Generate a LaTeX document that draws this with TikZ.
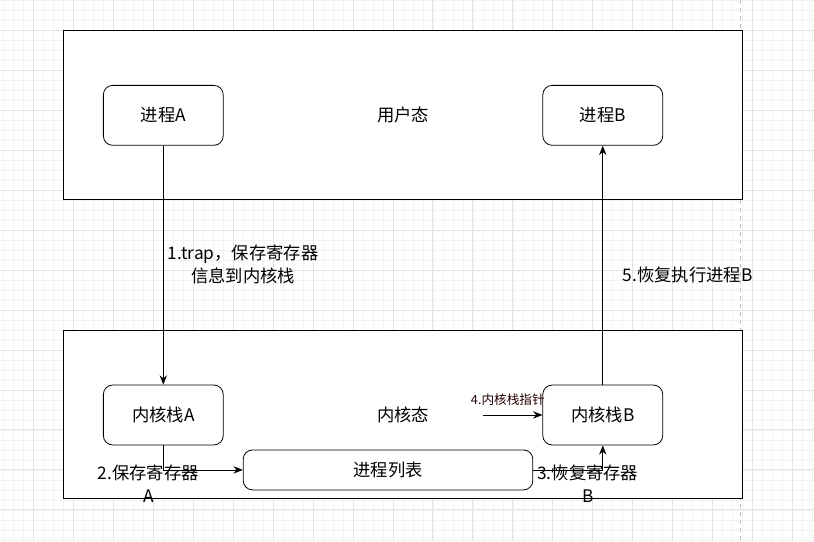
\documentclass[tikz,border=0pt]{standalone}
\usepackage{fontspec}
\setmainfont{Noto Sans CJK SC}
\usetikzlibrary{arrows.meta,positioning}
\definecolor{gridmajor}{HTML}{E4E4E4}
\definecolor{gridminor}{HTML}{F3F3F3}

\begin{document}
\begin{tikzpicture}[
  x=0.75pt, y=-0.75pt,
  font=\fontsize{13}{17}\selectfont,
  >={Stealth[length=7pt,width=5.5pt]},
  minorgrid/.style={gridminor,line width=0.5pt},
  majorgrid/.style={gridmajor,line width=0.75pt},
  frame/.style ={draw,rectangle,fill=white,line width=0.75pt,
                 minimum width=510pt,minimum height=126.75pt,inner sep=0pt},
  proc/.style  ={draw,rectangle,rounded corners=7pt,fill=white,line width=0.6pt,
                 minimum width=90pt,minimum height=45pt,align=center},
  lbl/.style   ={align=center,inner sep=0pt},
  flow/.style  ={->,line width=0.6pt},
]

%% =====================================================
%%  Canvas grid
%% =====================================================
\fill[white] (0,0) rectangle (814,541);
\foreach \gx in {3,13,...,813} \draw[minorgrid] (\gx,0) -- (\gx,541);
\foreach \gy in {0,10,...,540} \draw[minorgrid] (0,\gy) -- (814,\gy);
\foreach \gx in {33,73,...,813} \draw[majorgrid] (\gx,0) -- (\gx,541);
\foreach \gy in {30,70,...,540} \draw[majorgrid] (0,\gy) -- (814,\gy);
\draw[gray!50,dashed,line width=0.6pt] (741,0) -- (741,541);
\useasboundingbox (0,0) rectangle (814,541);

%% =====================================================
%%  User mode
%% =====================================================
\node[frame] (userbox) at (403,114.5) {};
\node[lbl]   (user)    at (403,115) {用户态};
\node[proc]  (pA)      at (163,115) {进程A};
\node[proc]  (pB)      at (603,115) {进程B};

%% =====================================================
%%  Kernel mode
%% =====================================================
\node[frame] (kernbox) at (403,414.5) {};
\node[lbl]   (kern)    at (403,415) {内核态};
\node[proc]  (kA)      at (163,415) {内核栈A};
\node[proc]  (kB)      at (603,415) {内核栈B};
\node[proc,minimum width=217.5pt,minimum height=30pt] (plist) at (388,470) {进程列表};

%% =====================================================
%%  Switch steps
%% =====================================================
\draw[flow] (pA.south) -- (kA.north);
\node[lbl] (step1) at (243,264) {1.trap，保存寄存器\\信息到内核栈};

\draw[flow] (kA.south) |- (plist.west);
\node[lbl] (step2) at (148,484) {2.保存寄存器\\A};

\draw[flow] (plist.east) -| (kB.south);
\node[lbl] (step3) at (588,484) {3.恢复寄存器\\B};

\coordinate (ptr) at (483,415);
\draw[flow] (ptr) -- (kB.west);
\node[lbl,font=\fontsize{9.5}{12}\selectfont,text=black!85!red] (step4) at (508,400) {4.内核栈指针};

\draw[flow] (kB.north) -- (pB.south);
\node[lbl] (step5) at (688,275) {5.恢复执行进程B};

\end{tikzpicture}
\end{document}
